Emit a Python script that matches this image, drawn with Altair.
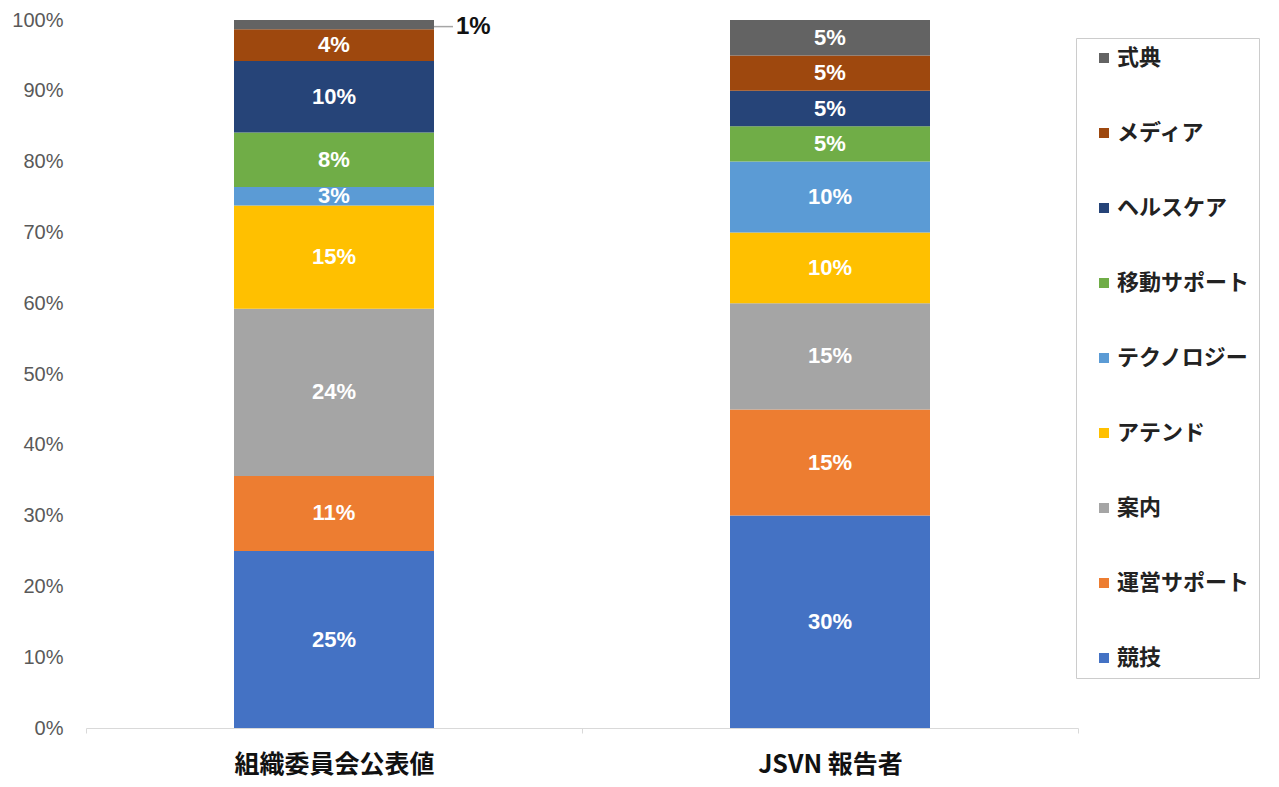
import altair as alt
import pandas as pd

groups = ["組織委員会公表値", "JSVN 報告者"]
categories = ["競技", "運営サポート", "案内", "アテンド", "テクノロジー",
              "移動サポート", "ヘルスケア", "メディア", "式典"]
colors = ["#4472C4", "#ED7D31", "#A5A5A5", "#FFC000", "#5B9BD5",
          "#70AD47", "#264478", "#9E480E", "#636363"]
org_values = [25.0, 10.6, 23.6, 14.6, 2.6, 7.7, 10.1, 4.5, 1.3]
jsvn_values = [30, 15, 15, 10, 10, 5, 5, 5, 5]
org_labels = ["25%", "11%", "24%", "15%", "3%", "8%", "10%", "4%", "1%"]
jsvn_labels = ["30%", "15%", "15%", "10%", "10%", "5%", "5%", "5%", "5%"]
outside_labels = [("組織委員会公表値", "式典")]
y_ticks = list(range(0, 101, 10))

rows = []
for g, vals, labs in [(groups[0], org_values, org_labels),
                      (groups[1], jsvn_values, jsvn_labels)]:
    for i, (c, v, l) in enumerate(zip(categories, vals, labs)):
        rows.append(dict(group=g, cat=c, idx=i, value=v, label=l,
                         outside=(g, c) in outside_labels))
df = pd.DataFrame(rows)

FONT_JP = "Noto Sans CJK JP"
FONT_LAT = "Liberation Sans"

base = (
    alt.Chart(df)
    .transform_stack(stack="value", groupby=["group"],
                     sort=[alt.SortField("idx", order="ascending")],
                     as_=["y0", "y1"])
    .transform_calculate(mid="(datum.y0 + datum.y1) / 2")
)

x_enc = alt.X(
    "group:N", sort=groups,
    scale=alt.Scale(paddingInner=0, paddingOuter=0),
    axis=alt.Axis(title=None, labelAngle=0, labelFontSize=25,
                  labelFontWeight="bold", labelColor="#111111",
                  labelFont=FONT_JP, labelPadding=19, tickBand="extent",
                  tickColor="#d9d9d9", domainColor="#d9d9d9", tickSize=5,
                  labelBaseline="top", labelLimit=0),
)
y_scale = alt.Scale(domain=[0, 100], nice=False)

bars = base.mark_bar(size=200).encode(
    x=x_enc,
    y=alt.Y("y0:Q", scale=y_scale,
            axis=alt.Axis(title=None, values=y_ticks,
                          labelExpr="datum.value + '%'", grid=False,
                          domain=False, ticks=False, labelFontSize=20,
                          labelColor="#595959", labelFont=FONT_LAT,
                          labelPadding=23)),
    y2="y1:Q",
    color=alt.Color(
        "cat:N",
        scale=alt.Scale(domain=categories[::-1], range=colors[::-1]),
        legend=alt.Legend(title=None, orient="none", legendX=990, legendY=18,
                          symbolType="square", symbolSize=100,
                          symbolStrokeWidth=0,
                          labelFontSize=22, labelFontWeight="bold",
                          labelFont=FONT_JP, labelColor="#222222",
                          rowPadding=53, padding=9, symbolOffset=8,
                          labelOffset=2, strokeColor="#cccccc",
                          fillColor="white", labelLimit=300),
    ),
    order=alt.Order("idx:Q"),
)

inside_text = base.transform_filter("!datum.outside").mark_text(
    color="white", fontWeight="bold", fontSize=22, font=FONT_LAT,
    baseline="middle", align="center"
).encode(
    x=alt.X("group:N", sort=groups),
    y=alt.Y("mid:Q", scale=y_scale),
    text="label:N",
)

outside_text = base.transform_filter("datum.outside").mark_text(
    color="#111111", fontWeight="bold", fontSize=24, font=FONT_LAT,
    baseline="middle", align="left", dx=122, dy=2
).encode(
    x=alt.X("group:N", sort=groups),
    y=alt.Y("mid:Q", scale=y_scale),
    text="label:N",
)

leader = base.transform_filter("datum.outside").mark_rule(
    color="#a6a6a6", strokeWidth=1.5, xOffset=100, x2Offset=119,
    yOffset=2, y2Offset=2
).encode(
    x=alt.X("group:N", sort=groups),
    x2=alt.X2("group:N"),
    y=alt.Y("mid:Q", scale=y_scale),
    y2=alt.Y2("mid:Q"),
)

chart = (
    alt.layer(bars, inside_text, leader, outside_text)
    .properties(width=992, height=708,
                autosize=alt.AutoSizeParams(type="none"),
                padding={"left": 78, "top": 12, "right": 190, "bottom": 58})
    .configure_view(stroke=None)
)

chart.save("out.html", embed_options={"renderer": "svg", "actions": False})
